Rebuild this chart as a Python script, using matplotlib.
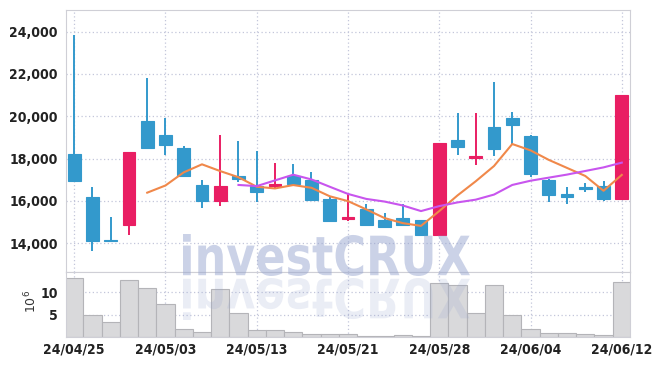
import matplotlib
matplotlib.use('Agg')
import matplotlib.pyplot as plt
import numpy as np
import pandas as pd
from matplotlib.textpath import TextPath
from matplotlib.font_manager import FontProperties, findfont
from matplotlib.patches import PathPatch
from matplotlib.transforms import Affine2D, IdentityTransform

# daily candles, 24/04/25 .. 24/06/12
dates = ['24/04/25', '24/04/26', '24/04/29', '24/04/30', '24/05/02', '24/05/03',
         '24/05/07', '24/05/08', '24/05/09', '24/05/10', '24/05/13', '24/05/14',
         '24/05/16', '24/05/17', '24/05/20', '24/05/21', '24/05/22', '24/05/23',
         '24/05/24', '24/05/27', '24/05/28', '24/05/29', '24/05/30', '24/05/31',
         '24/06/03', '24/06/04', '24/06/05', '24/06/07', '24/06/10', '24/06/11',
         '24/06/12']
opens = [18200, 16200, 14150, 14850, 19800, 19100, 18500, 16750, 16000, 17200,
         16700, 16700, 17200, 17000, 16100, 15150, 15600, 15100, 15200, 15100,
         14400, 18900, 18050, 19500, 19900, 19050, 17000, 16350, 16650, 16700,
         16100]
closes = [16950, 14100, 14100, 18300, 18500, 18650, 17200, 16000, 16700, 17050,
          16400, 16800, 16800, 16050, 15050, 15250, 14850, 14750, 14850, 14400,
          18750, 18550, 18100, 18450, 19600, 17250, 16300, 16200, 16550, 16100,
          21000]
highs = [23850, 16650, 15250, 18300, 21800, 19900, 18600, 17000, 19100, 18850,
         18350, 17800, 17750, 17350, 16200, 16350, 15850, 15450, 15850, 15100,
         18750, 20150, 20150, 21600, 20200, 19100, 17050, 16650, 16850, 16950,
         21000]
lows = [16950, 13650, 14100, 14400, 18450, 18150, 17150, 15650, 15750, 16900,
        15950, 16550, 16800, 16050, 15050, 15050, 14850, 14750, 14800, 14400,
        14400, 18150, 17700, 18100, 18700, 17150, 15950, 15850, 16400, 16000,
        16100]
# volume in millions of shares
volumes = [13.2, 4.9, 3.4, 12.8, 11.0, 7.4, 1.8, 1.1, 10.7, 5.4, 1.6, 1.6, 1.1,
           0.7, 0.7, 0.75, 0.2, 0.2, 0.5, 0.2, 12.1, 11.5, 5.4, 11.5, 5.0, 1.8,
           0.9, 0.9, 0.7, 0.4, 12.3]

UP = '#e91e63'
DOWN = '#3399cc'
GRID = '#c3c6da'
tick_font = FontProperties(family='DejaVu Sans', weight='bold', stretch='condensed', size=10)
print(findfont(tick_font))

df = pd.DataFrame({'open': opens, 'close': closes, 'high': highs, 'low': lows,
                   'volume': volumes})
df['ma5'] = df['close'].rolling(5).mean()
df['ma10'] = df['close'].rolling(10).mean()
x = np.arange(len(df))

W, H = 657, 366
fig = plt.figure(figsize=(W / 100, H / 100), dpi=100)
ax = fig.add_axes([66 / W, 1 - 272 / H, (630 - 66) / W, (272 - 10) / H])
axv = fig.add_axes([66 / W, 1 - 337 / H, (630 - 66) / W, (337 - 272) / H], sharex=ax)

for a in (ax, axv):
    a.grid(True, linestyle=(0, (1, 2)), color=GRID, linewidth=0.9)
    a.set_axisbelow(True)
    for s in a.spines.values():
        s.set_color('#cfcfd6')
    a.tick_params(length=0, pad=6, colors='#222222')

# candles
colors = [UP if c >= o else DOWN for o, c in zip(df['open'], df['close'])]
ax.vlines(x, df['low'], df['high'], colors=colors, linewidth=1.4, zorder=2)
body_lo = np.minimum(df['open'], df['close'])
body_h = np.maximum((df['close'] - df['open']).abs(), 60)
ax.bar(x, body_h, bottom=body_lo, width=0.7, color=colors, edgecolor=colors,
       linewidth=0.8, zorder=3)
ax.plot(x, df['ma5'], color='#f0884a', linewidth=1.5, zorder=4)
ax.plot(x, df['ma10'], color='#c855ee', linewidth=1.5, zorder=4)

ax.set_ylim(12640, 25025)
ax.set_yticks(range(14000, 24001, 2000))
ax.set_yticklabels([f'{v:,}' for v in range(14000, 24001, 2000)], fontproperties=tick_font)
ax.set_xlim(-0.45, len(df) - 0.55)
ax.set_xticks(x[::5])
ax.tick_params(axis='x', labelbottom=False)

# volume
axv.bar(x, df['volume'], width=1.0, color='#d9d9db', edgecolor='#b4b4b8',
        linewidth=0.8, zorder=2)
axv.set_ylim(0, 14.5)
axv.set_yticks([5, 10])
axv.set_yticklabels(['5', '10'], fontproperties=tick_font)
axv.set_xticks(x[::5])
axv.set_xticklabels([dates[i] for i in x[::5]], fontproperties=tick_font)
axv.tick_params(axis='x', pad=4)
fig.text(31 / W, 1 - 301 / H, r'$10^6$', rotation=90, ha='center', va='center',
         fontsize=9, color='#333333')

# watermark with mirrored reflection
tp = TextPath((0, 0), 'investCRUX', prop=FontProperties(family='DejaVu Sans', weight='bold'))
ext = tp.get_extents()
x0, x1, base, top = 183, 470, H - 276, H - 234
sx = (x1 - x0) / ext.width
sy = (top - base) / ext.height
main = Affine2D().translate(-ext.x0, -ext.y0).scale(sx, sy).translate(x0, base)
mirror = Affine2D().translate(-ext.x0, -ext.y0).scale(sx, -sy).translate(x0, base - 2)
fig.add_artist(PathPatch(main.transform_path(tp), transform=IdentityTransform(),
                         facecolor='#98a6d0', edgecolor='none', alpha=0.5, zorder=10))
fig.add_artist(PathPatch(mirror.transform_path(tp), transform=IdentityTransform(),
                         facecolor='#98a6d0', edgecolor='none', alpha=0.2, zorder=10))

fig.savefig('out.png', dpi=100)
